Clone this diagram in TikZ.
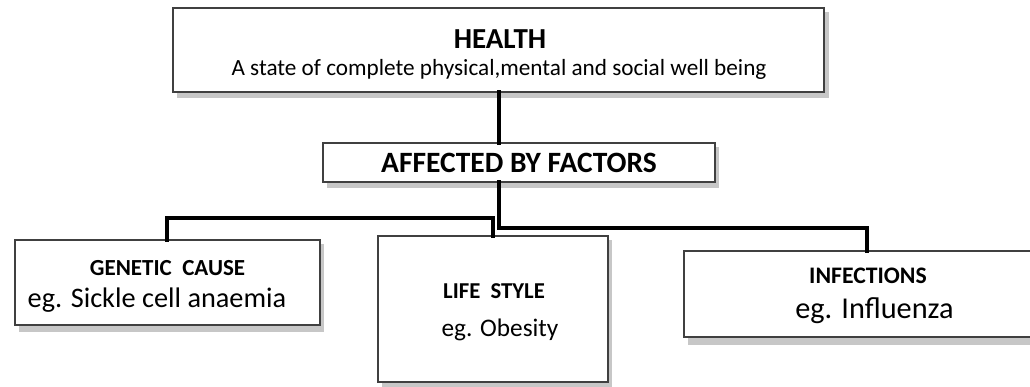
\documentclass[tikz,border=0pt]{standalone}
\usepackage{fontspec}
\setmainfont{Carlito}
\begin{document}
\begin{tikzpicture}[x=1pt,y=-1pt,
  box/.style={draw=black!75, line width=1.1pt, fill=white, anchor=north west,
    inner sep=0pt, outer sep=0pt},
  shade/.style={fill=black!22, draw=none},
  link/.style={line width=3.6pt, line cap=rect, line join=miter},
  txt/.style={anchor=base, inner sep=0pt, text=black}
]
\useasboundingbox[fill=white] (0,0) rectangle (1030,386);

% drop shadows under the boxes
\fill[shade] (177,12) rectangle (829,98);
\fill[shade] (327,147) rectangle (719,188);
\fill[shade] (19,244) rectangle (324,332);
\fill[shade] (382,240) rectangle (612,388);
\fill[shade] (688,255) rectangle (1040,345);

% boxes
\node[box, minimum width=651pt, minimum height=84pt] (health) at (173,8) {};
\node[box, minimum width=392pt, minimum height=39pt] (affected) at (323,143) {};
\node[box, minimum width=305pt, minimum height=85pt] (genetic) at (15,240) {};
\node[box, minimum width=230pt, minimum height=146pt] (life) at (378,236) {};
\node[box, minimum width=360pt, minimum height=86pt] (infect) at (684,251) {};

% junction points of the tree
\coordinate (jr) at (499,228);
\coordinate (jl) at (493,218);

% connectors
\draw[link] (health.south -| jr) -- (affected.north -| jr);
\draw[link] (affected.south -| jr) -- (jr) -- (867,228) -- (infect.north -| 867,0);
\draw[link] (life.north -| jl) -- (jl) -- (167,218) -- (genetic.north -| 167,0);

% texts
\node[txt, font=\bfseries\fontsize{29}{32}\selectfont] (t1) at (500,48) {HEALTH};
\node[txt, font=\fontsize{23.2}{26}\selectfont] (t2) at (499,75)
  {A state of complete physical,mental and social well being};
\node[txt, font=\bfseries\fontsize{29.5}{32}\selectfont] (t3) at (519,172) {AFFECTED BY FACTORS};
\node[txt, font=\bfseries\fontsize{23}{26}\selectfont] (t4) at (167.5,275) {GENETIC\ \ CAUSE};
\node[txt, font=\fontsize{28.3}{31}\selectfont] (t5) at (157,307) {eg. Sickle cell anaemia};
\node[txt, font=\bfseries\fontsize{22.7}{26}\selectfont] (t6) at (494,298) {LIFE\ \ STYLE};
\node[txt, font=\fontsize{25.3}{28}\selectfont] (t7) at (500,336) {eg. Obesity};
\node[txt, font=\bfseries\fontsize{23.7}{26}\selectfont] (t8) at (868,283) {INFECTIONS};
\node[txt, font=\fontsize{30.3}{33}\selectfont] (t9) at (874.5,318) {eg. Influenza};
\end{tikzpicture}
\end{document}
